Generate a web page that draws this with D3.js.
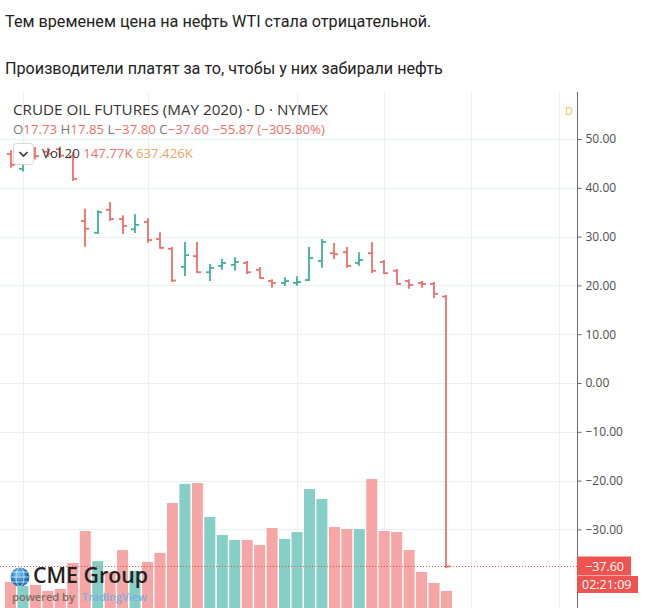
<!DOCTYPE html>
<html><head><meta charset="utf-8">
<script src="https://cdn.jsdelivr.net/npm/d3@7"></script>
<style>body{margin:0;background:#fff}svg{display:block}</style>
</head><body><svg id="c" width="664" height="608"></svg>
<script>
// ---- data ----
const dates = ["2020-02-28","2020-03-02","2020-03-03","2020-03-04","2020-03-05","2020-03-06",
  "2020-03-09","2020-03-10","2020-03-11","2020-03-12","2020-03-13","2020-03-16","2020-03-17",
  "2020-03-18","2020-03-19","2020-03-20","2020-03-23","2020-03-24","2020-03-25","2020-03-26",
  "2020-03-27","2020-03-30","2020-03-31","2020-04-01","2020-04-02","2020-04-03","2020-04-06",
  "2020-04-07","2020-04-08","2020-04-09","2020-04-13","2020-04-14","2020-04-15","2020-04-16",
  "2020-04-17","2020-04-20"];
const openP  = [46.9,43.9,47.8,47.4,47.9,46.5,33.2,30.8,35.5,33.6,31.5,33.0,29.5,27.5,23.8,26.0,22.7,24.0,24.2,24.6,23.2,20.9,20.5,20.5,21.1,25.0,26.6,26.8,24.6,26.6,24.8,23.0,20.9,20.5,20.3,17.73];
const highP  = [47.5,46.8,48.2,48.0,48.3,47.1,35.5,35.2,36.9,34.2,34.4,33.6,30.7,27.7,28.7,28.7,24.2,25.2,25.6,24.8,23.6,21.1,21.5,21.7,27.7,29.3,28.5,27.7,26.6,28.7,25.0,23.2,21.1,20.7,20.5,17.85];
const lowP   = [44.3,43.5,46.0,46.6,46.4,41.6,28.1,30.7,33.4,30.7,30.9,28.9,27.7,20.9,22.1,22.7,21.1,23.4,23.2,22.5,21.5,19.7,20.1,20.1,21.1,23.8,25.6,23.8,24.2,22.7,22.5,20.3,19.5,19.7,17.6,-37.80];
const closeP = [44.7,45.5,46.5,47.0,46.6,41.8,31.6,35.0,33.6,32.2,32.4,29.3,27.7,21.0,26.2,22.7,23.6,24.6,24.8,22.7,21.5,20.5,20.9,20.7,25.6,28.9,26.4,24.0,25.2,23.0,22.5,20.3,20.1,20.3,18.27,-37.60];
const volumeK = [226,191,200,148,165,391,669,408,313,504,322,400,478,912,1078,1086,791,634,591,591,547,695,600,660,1034,947,704,686,686,1121,669,660,504,313,217,147.77];
const volMA20K = 637.426;
const priceTicks = [50,40,30,20,10,0,-10,-20,-30];
const gridDays = [1,11,23,30,37,44];
const lastPrice = -37.60;
const countdown = "02:21:09";
const headerLines = ["Тем временем цена на нефть WTI стала отрицательной.","Производители платят за то, чтобы у них забирали нефть"];
const title = "CRUDE OIL FUTURES (MAY 2020) · D · NYMEX";

// ---- setup ----
const svg = d3.select("#c");
const UP = "#3fae9f", DN = "#ec6f6c";
const UPV = "#86cfc7", DNV = "#f6a6a4";
const RED = "#ef5350";
const paneTop = 92, paneBottom = 608, axisX = 577;

const x = d3.scaleLinear().domain([0,44]).range([10.5,558.6]);
const y = d3.scaleLinear().domain([-30,50]).range([529.4,139]);
const yv = d3.scaleLinear().domain([0,1300]).range([608,458.4]);

function fit(sel, w){
  const cw = sel.node().getComputedTextLength();
  const fs = parseFloat(sel.attr("font-size"));
  sel.attr("font-size", (fs*w/cw).toFixed(2));
}
const fmt = v => (v<0?"\u2212":"") + Math.abs(v).toFixed(2);

// header
headerLines.forEach((t,i)=>{
  const tx = svg.append("text").attr("x",5).attr("y",[27,74][i])
    .attr("font-family","Roboto").attr("font-size",15).attr("fill","#222").text(t);
  fit(tx, [427,438][i]);
});

// grid
const g = svg.append("g");
g.selectAll(".hg").data(priceTicks).join("line")
  .attr("x1",0).attr("x2",axisX).attr("y1",d=>Math.round(y(d))+0.5).attr("y2",d=>Math.round(y(d))+0.5)
  .attr("stroke","#eaeff4").attr("stroke-width",1);
g.selectAll(".vg").data(gridDays).join("line")
  .attr("x1",d=>Math.round(x(d))+0.5).attr("x2",d=>Math.round(x(d))+0.5)
  .attr("y1",paneTop).attr("y2",paneBottom)
  .attr("stroke","#eaeff4").attr("stroke-width",1);

// volume
const idx = d3.range(dates.length);
svg.append("g").selectAll("rect").data(idx).join("rect")
  .attr("x",i=>x(i)-5.5).attr("width",11)
  .attr("y",i=>yv(volumeK[i])).attr("height",i=>yv(0)-yv(volumeK[i]))
  .attr("fill",i=>closeP[i]>=openP[i]?UPV:DNV);

// OHLC bars
const bars = svg.append("g").attr("stroke-width",1.8).attr("fill","none");
idx.forEach(i=>{
  const c = closeP[i]>=openP[i]?UP:DN;
  const cx = Math.round(x(i));
  const bg = bars.append("g").attr("stroke",c);
  bg.append("line").attr("x1",cx).attr("x2",cx).attr("y1",y(highP[i])-0.9).attr("y2",y(lowP[i])+0.9);
  bg.append("line").attr("x1",cx-4).attr("x2",cx).attr("y1",y(openP[i])).attr("y2",y(openP[i]));
  bg.append("line").attr("x1",cx).attr("x2",cx+4).attr("y1",y(closeP[i])).attr("y2",y(closeP[i]));
});

// last price line
svg.append("line").attr("x1",0).attr("x2",axisX).attr("y1",Math.round(y(lastPrice))+0.5).attr("y2",Math.round(y(lastPrice))+0.5)
  .attr("stroke",RED).attr("stroke-width",1).attr("stroke-dasharray","1,2");

// axis
const ax = svg.append("g").attr("transform",`translate(${axisX+0.5},0)`)
  .call(d3.axisRight(y).tickValues(priceTicks).tickFormat(fmt).tickSize(4).tickPadding(4));
ax.select(".domain").remove();
ax.selectAll(".tick line").attr("stroke","#6b6b6b");
ax.selectAll(".tick text").attr("fill","#4d4d4d").attr("font-family","Open Sans").attr("font-size",12);
svg.append("line").attr("x1",axisX+0.5).attr("x2",axisX+0.5).attr("y1",paneTop).attr("y2",paneBottom)
  .attr("stroke","#6b6b6b").attr("stroke-width",1);

// price label boxes
const py = y(lastPrice);
svg.append("rect").attr("x",axisX).attr("y",py-10).attr("width",54).attr("height",19).attr("fill",RED);
svg.append("text").attr("x",axisX+8).attr("y",py+4.5).attr("fill","#fff").attr("font-family","Open Sans").attr("font-size",12.5).text(fmt(lastPrice));
svg.append("rect").attr("x",axisX).attr("y",py+9.5).attr("width",61).attr("height",17).attr("fill",RED);
svg.append("text").attr("x",axisX+5).attr("y",py+22.5).attr("fill","#fff").attr("font-family","Open Sans").attr("font-size",12.5).text(countdown);

// "D" marker
svg.append("text").attr("x",565).attr("y",115).attr("fill","#f2c14e").attr("font-family","Open Sans").attr("font-size",11).text("D");

// title
const tt = svg.append("text").attr("x",13).attr("y",115).attr("font-family","Open Sans").attr("font-size",16).attr("fill","#333").text(title);
fit(tt,315);

// OHLC legend
const n = dates.length-1;
const chg = closeP[n]-closeP[n-1];
const pct = chg/closeP[n-1]*100;
const ol = svg.append("text").attr("x",13).attr("y",134).attr("font-family","Open Sans").attr("font-size",12.5);
[["O","#777"],[fmt(openP[n]),DN],[" H","#777"],[fmt(highP[n]),DN],[" L","#777"],[fmt(lowP[n]),DN],[" C","#777"],[fmt(closeP[n]),DN],
 [" "+fmt(chg)+" ("+fmt(pct)+"%)",DN]].forEach(([t,c])=>ol.append("tspan").attr("fill",c).text(t));
fit(ol,312);

// volume legend
const btn = svg.append("g");
btn.append("rect").attr("x",13.5).attr("y",143.5).attr("width",20).attr("height",21).attr("rx",3)
  .attr("fill","#fff").attr("stroke","#d6d6d6");
btn.append("path").attr("d","M19.5 152 l4 4 l4 -4").attr("fill","none").attr("stroke","#333").attr("stroke-width",1.6);
const vl = svg.append("text").attr("x",42).attr("y",157.5).attr("font-family","Open Sans").attr("font-size",12.5);
vl.append("tspan").attr("fill","#333").text("Vol 20 ");
vl.append("tspan").attr("fill",DN).text(volumeK[n].toFixed(2)+"K ");
vl.append("tspan").attr("fill","#f0a35e").text(volMA20K.toFixed(3)+"K");
fit(vl,151);

// CME logo
const logo = svg.append("g");
const grad = svg.append("defs").append("radialGradient").attr("id","gl").attr("cx","40%").attr("cy","35%");
grad.append("stop").attr("offset","0%").attr("stop-color","#7cc4f0");
grad.append("stop").attr("offset","100%").attr("stop-color","#1a6fb5");
logo.append("circle").attr("cx",20).attr("cy",577).attr("r",9.5).attr("fill","url(#gl)");
logo.append("ellipse").attr("cx",20).attr("cy",577).attr("rx",4).attr("ry",9.5).attr("fill","none").attr("stroke","#dff0fb").attr("stroke-width",0.8);
logo.append("line").attr("x1",10.5).attr("x2",29.5).attr("y1",577).attr("y2",577).attr("stroke","#dff0fb").attr("stroke-width",0.8);
logo.append("line").attr("x1",12).attr("x2",28).attr("y1",572).attr("y2",572).attr("stroke","#dff0fb").attr("stroke-width",0.8);
logo.append("line").attr("x1",12).attr("x2",28).attr("y1",582).attr("y2",582).attr("stroke","#dff0fb").attr("stroke-width",0.8);
const cme = logo.append("text").attr("x",33).attr("y",583).attr("font-family","Open Sans").attr("font-weight",600).attr("font-size",20).attr("fill","#222").text("CME Group");
fit(cme,115);
const pb = logo.append("text").attr("x",12).attr("y",601).attr("font-family","Open Sans").attr("font-weight",600).attr("font-size",12).attr("fill","#7d6b66").text("powered by");
fit(pb,63);
const tv = logo.append("text").attr("x",82).attr("y",601).attr("font-family","Open Sans").attr("font-weight",600).attr("font-size",12).attr("fill","#79aee0").text("TradingView");
fit(tv,65);
</script></body></html>
